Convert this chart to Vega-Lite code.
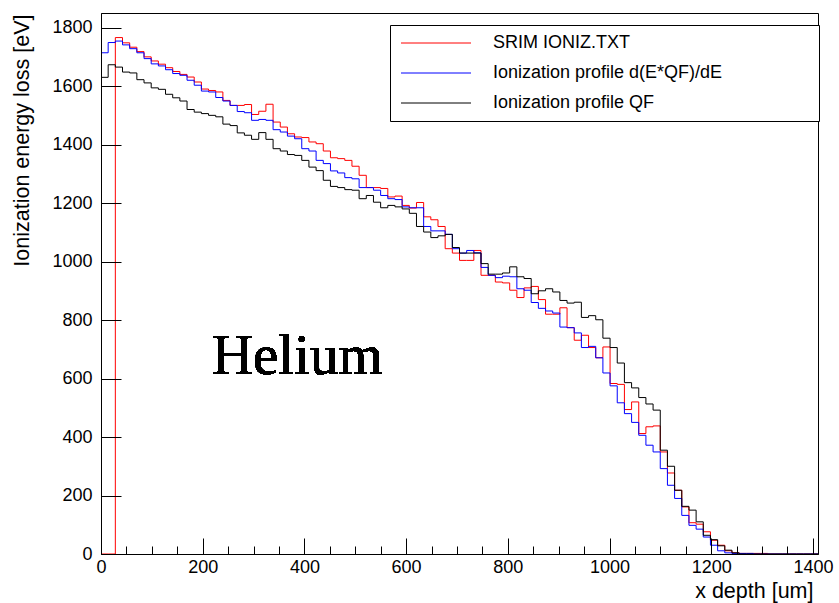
{
"$schema": "https://vega.github.io/schema/vega-lite/v6.json",
"width": 717, "height": 541,
"autosize": {"type": "none"},
"padding": {"left": 101, "top": 13, "right": 21, "bottom": 49},
"background": "white",
"config": {"view": {"stroke": "black", "strokeWidth": 1}, "font": "Liberation Sans"},
"data": {"values": [
{"x":0,"srim":0,"dedx":1714,"qf":1630},
{"x":14.1,"srim":0,"dedx":1749,"qf":1673},
{"x":28.2,"srim":1766,"dedx":1754,"qf":1665},
{"x":42.3,"srim":1748,"dedx":1741,"qf":1648},
{"x":56.4,"srim":1733,"dedx":1728,"qf":1645},
{"x":70.5,"srim":1718,"dedx":1714,"qf":1622},
{"x":84.6,"srim":1700,"dedx":1694,"qf":1611},
{"x":98.7,"srim":1686,"dedx":1676,"qf":1594},
{"x":112.8,"srim":1675,"dedx":1669,"qf":1589},
{"x":126.9,"srim":1663,"dedx":1656,"qf":1572},
{"x":141,"srim":1650,"dedx":1643,"qf":1560},
{"x":155.1,"srim":1640,"dedx":1637,"qf":1549},
{"x":169.2,"srim":1631,"dedx":1620,"qf":1520},
{"x":183.3,"srim":1614,"dedx":1603,"qf":1511},
{"x":197.4,"srim":1590,"dedx":1583,"qf":1506},
{"x":211.5,"srim":1585,"dedx":1580,"qf":1500},
{"x":225.6,"srim":1580,"dedx":1561,"qf":1495},
{"x":239.7,"srim":1551,"dedx":1549,"qf":1470},
{"x":253.8,"srim":1534,"dedx":1534,"qf":1465},
{"x":267.9,"srim":1534,"dedx":1513,"qf":1440},
{"x":282,"srim":1537,"dedx":1509,"qf":1432},
{"x":296.1,"srim":1503,"dedx":1483,"qf":1418},
{"x":310.2,"srim":1514,"dedx":1486,"qf":1441},
{"x":324.3,"srim":1538,"dedx":1483,"qf":1418},
{"x":338.4,"srim":1477,"dedx":1451,"qf":1386},
{"x":352.5,"srim":1460,"dedx":1443,"qf":1378},
{"x":366.6,"srim":1437,"dedx":1429,"qf":1366},
{"x":380.7,"srim":1426,"dedx":1420,"qf":1363},
{"x":394.8,"srim":1424,"dedx":1386,"qf":1346},
{"x":408.9,"srim":1409,"dedx":1378,"qf":1323},
{"x":423,"srim":1403,"dedx":1346,"qf":1311},
{"x":437.1,"srim":1378,"dedx":1335,"qf":1278},
{"x":451.2,"srim":1355,"dedx":1310,"qf":1257},
{"x":465.3,"srim":1352,"dedx":1303,"qf":1253},
{"x":479.4,"srim":1346,"dedx":1287,"qf":1246},
{"x":493.5,"srim":1326,"dedx":1283,"qf":1244},
{"x":507.6,"srim":1295,"dedx":1253,"qf":1215},
{"x":521.7,"srim":1253,"dedx":1253,"qf":1226},
{"x":535.8,"srim":1253,"dedx":1244,"qf":1203},
{"x":549.9,"srim":1250,"dedx":1226,"qf":1184},
{"x":564,"srim":1221,"dedx":1215,"qf":1192},
{"x":578.1,"srim":1224,"dedx":1212,"qf":1187},
{"x":592.2,"srim":1192,"dedx":1187,"qf":1180},
{"x":606.3,"srim":1183,"dedx":1184,"qf":1165},
{"x":620.4,"srim":1202,"dedx":1184,"qf":1120},
{"x":634.5,"srim":1153,"dedx":1120,"qf":1101},
{"x":648.6,"srim":1143,"dedx":1105,"qf":1082},
{"x":662.7,"srim":1120,"dedx":1105,"qf":1088},
{"x":676.8,"srim":1044,"dedx":1093,"qf":1093},
{"x":690.9,"srim":1029,"dedx":1044,"qf":1048},
{"x":705,"srim":1004,"dedx":1029,"qf":1029},
{"x":719.1,"srim":1004,"dedx":1038,"qf":1029},
{"x":733.2,"srim":1038,"dedx":1030,"qf":1029},
{"x":747.3,"srim":953,"dedx":980,"qf":993},
{"x":761.4,"srim":953,"dedx":953,"qf":957},
{"x":775.5,"srim":930,"dedx":945,"qf":957},
{"x":789.6,"srim":927,"dedx":950,"qf":961},
{"x":803.7,"srim":902,"dedx":948,"qf":982},
{"x":817.8,"srim":877,"dedx":907,"qf":948},
{"x":831.9,"srim":910,"dedx":902,"qf":942},
{"x":846,"srim":915,"dedx":860,"qf":890},
{"x":860.1,"srim":870,"dedx":840,"qf":900},
{"x":874.2,"srim":820,"dedx":831,"qf":907},
{"x":888.3,"srim":820,"dedx":824,"qf":896},
{"x":902.4,"srim":842,"dedx":776,"qf":867},
{"x":916.5,"srim":774,"dedx":774,"qf":858},
{"x":930.6,"srim":731,"dedx":756,"qf":861},
{"x":944.7,"srim":748,"dedx":706,"qf":809},
{"x":958.8,"srim":706,"dedx":710,"qf":815},
{"x":972.9,"srim":671,"dedx":671,"qf":801},
{"x":987,"srim":708,"dedx":619,"qf":738},
{"x":1001.1,"srim":583,"dedx":575,"qf":706},
{"x":1015.2,"srim":580,"dedx":517,"qf":653},
{"x":1029.3,"srim":494,"dedx":480,"qf":586},
{"x":1043.4,"srim":520,"dedx":450,"qf":568},
{"x":1057.5,"srim":412,"dedx":406,"qf":535},
{"x":1071.6,"srim":435,"dedx":372,"qf":513},
{"x":1085.7,"srim":438,"dedx":349,"qf":492},
{"x":1099.8,"srim":349,"dedx":292,"qf":355},
{"x":1113.9,"srim":277,"dedx":235,"qf":300},
{"x":1128,"srim":218,"dedx":190,"qf":218},
{"x":1142.1,"srim":161,"dedx":132,"qf":163},
{"x":1156.2,"srim":107,"dedx":98,"qf":150},
{"x":1170.3,"srim":102,"dedx":85,"qf":110},
{"x":1184.4,"srim":76,"dedx":58,"qf":64},
{"x":1198.5,"srim":47,"dedx":30,"qf":49},
{"x":1212.6,"srim":30,"dedx":11,"qf":28},
{"x":1226.7,"srim":11,"dedx":4,"qf":13},
{"x":1240.8,"srim":4,"dedx":2,"qf":4},
{"x":1254.9,"srim":2,"dedx":2,"qf":0},
{"x":1269,"srim":2,"dedx":2,"qf":0},
{"x":1283.1,"srim":2,"dedx":0,"qf":0},
{"x":1297.2,"srim":2,"dedx":0,"qf":0},
{"x":1311.3,"srim":0,"dedx":0,"qf":0},
{"x":1325.4,"srim":0,"dedx":0,"qf":0},
{"x":1339.5,"srim":0,"dedx":0,"qf":0},
{"x":1353.6,"srim":0,"dedx":0,"qf":0},
{"x":1367.7,"srim":0,"dedx":0,"qf":0},
{"x":1381.8,"srim":0,"dedx":0,"qf":0},
{"x":1395.9,"srim":0,"dedx":0,"qf":0},
{"x":1410,"srim":0,"dedx":0,"qf":0}
]},
"encoding": {
  "x": {"field": "x", "type": "quantitative", "title": "x depth [um]",
    "scale": {"domain": [0, 1410], "nice": false, "zero": false},
    "axis": {"values": [0,50,100,150,200,250,300,350,400,450,500,550,600,650,700,750,800,850,900,950,1000,1050,1100,1150,1200,1250,1300,1350,1400],
      "format": "d", "labelExpr": "datum.value % 200 === 0 ? datum.label : ''",
      "tickSize": {"condition": {"test": "datum.value % 200 === 0", "value": -16}, "value": -8},
      "labelPadding": 20, "labelFlush": false, "grid": false, "zindex": 1,
      "domainColor": "black", "tickColor": "black", "labelColor": "black", "labelFontSize": 18, "labelFont": "Liberation Sans",
      "titleFont": "Liberation Sans", "titleFontSize": 21.5, "titleFontWeight": "normal", "titleColor": "black",
      "titleAnchor": "end", "titleAlign": "right", "titleBaseline": "alphabetic", "titleX": 712, "titleY": 43}}
},
"layer": [
  {"mark": {"type": "line", "interpolate": "step-after", "strokeWidth": 1},
   "encoding": {
     "y": {"field": "srim", "type": "quantitative", "title": "Ionization energy loss [eV]",
       "scale": {"domain": [0, 1850], "nice": false},
       "axis": {"values": [0,50,100,150,200,250,300,350,400,450,500,550,600,650,700,750,800,850,900,950,1000,1050,1100,1150,1200,1250,1300,1350,1400,1450,1500,1550,1600,1650,1700,1750,1800,1850],
         "format": "d", "labelExpr": "datum.value % 200 === 0 ? datum.label : ''",
         "tickSize": {"condition": {"test": "datum.value % 200 === 0", "value": -20}, "value": -10},
         "labelPadding": 29, "labelFlush": false, "grid": false, "zindex": 1,
         "domainColor": "black", "tickColor": "black", "labelColor": "black", "labelFontSize": 18, "labelFont": "Liberation Sans",
         "titleFont": "Liberation Sans", "titleFontSize": 21.5, "titleFontWeight": "normal", "titleColor": "black",
         "titleAngle": -90, "titleAlign": "right", "titleBaseline": "alphabetic", "titleX": -73, "titleY": 1}},
     "color": {"datum": "SRIM IONIZ.TXT", "type": "nominal",
       "scale": {"domain": ["SRIM IONIZ.TXT", "Ionization profile d(E*QF)/dE", "Ionization profile QF"], "range": ["#ff0000", "#0000ff", "#000000"]},
       "legend": {"orient": "none", "legendX": 289, "legendY": 12, "title": null,
         "symbolType": "M-1,0H9M57.1,0", "symbolSize": 196, "symbolStrokeWidth": 1,
         "labelFontSize": 18, "labelFont": "Liberation Sans", "labelColor": "black", "labelOffset": 76, "labelLimit": 500,
         "rowPadding": 12, "padding": 9, "strokeColor": "black", "fillColor": "white"}}
   }},
  {"mark": {"type": "line", "interpolate": "step-after", "strokeWidth": 1},
   "encoding": {
     "y": {"field": "dedx", "type": "quantitative", "title": "Ionization energy loss [eV]"},
     "color": {"datum": "Ionization profile d(E*QF)/dE", "type": "nominal"}
   }},
  {"mark": {"type": "line", "interpolate": "step-after", "strokeWidth": 1},
   "encoding": {
     "y": {"field": "qf", "type": "quantitative", "title": "Ionization energy loss [eV]"},
     "color": {"datum": "Ionization profile QF", "type": "nominal"}
   }},
  {"mark": {"type": "text", "font": "Liberation Serif", "fontSize": 57, "align": "left", "baseline": "alphabetic", "color": "black"},
   "encoding": {
     "x": {"datum": 218, "type": "quantitative"},
     "y": {"datum": 615, "type": "quantitative"},
     "text": {"value": "Helium"}
   }}
]
}
